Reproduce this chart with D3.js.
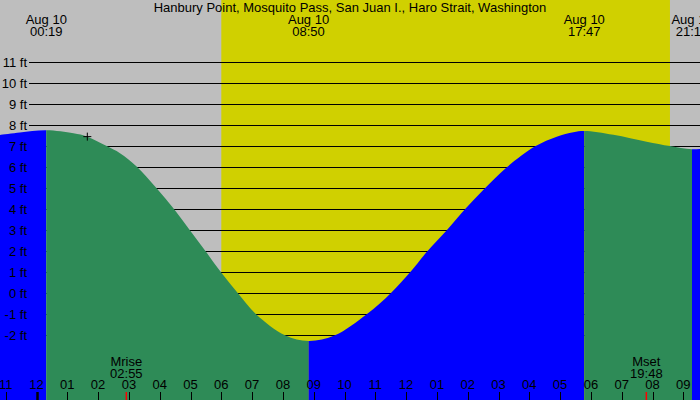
<!DOCTYPE html>
<html>
<head>
<meta charset="utf-8">
<script src="https://cdn.jsdelivr.net/npm/d3@7"></script>
<style>
  body { margin: 0; background: #fff; }
  svg { display: block; }
  text { font-family: "Liberation Sans", Arial, sans-serif; font-size: 13px; fill: #000; }
</style>
</head>
<body>
<div id="chart"></div>
<script>
const title = "Hanbury Point, Mosquito Pass, San Juan I., Haro Strait, Washington";

// tide curve: hours after midnight Aug 10, height in ft
const sampleHours = [-1.19, -0.54, 0.32, 1.2, 1.65, 2.28, 2.71, 3.25, 3.9, 4.47, 4.98, 5.49, 5.99, 6.54, 7.13, 8.07, 8.83,
                     9.69, 10.72, 11.5, 12.13, 12.69, 13.32, 13.91, 14.56, 15.27, 16.19, 16.89, 17.43, 17.78, 18.73, 19.81, 20.57, 21.28, 22.03];
const sampleFeet  = [7.54, 7.66, 7.76, 7.62, 7.46, 7.01, 6.67, 6.04, 5, 4, 3, 2, 1, 0, -1, -2, -2.27,
                     -2, -1, 0, 1, 2, 3, 4, 5, 6, 7, 7.46, 7.67, 7.73, 7.55, 7.22, 7.01, 6.86, 6.95];

// high / low tides
const tideDates = ["Aug 10", "Aug 10", "Aug 10", "Aug 10"];
const tideTimes = ["00:19", "08:50", "17:47", "21:17"];

const sunTimes = ["06:00", "20:34"];
const moonLabels = ["Mrise", "Mset"];
const moonTimes = ["02:55", "19:48"];

const markerHour = 1.65, markerFeet = 7.46;

const footTicks = d3.range(-2, 12);
const hourTicks = d3.range(-1, 23);

const width = 700, height = 400;
const toHours = s => { const [h, m] = s.split(":").map(Number); return h + m / 60; };

const x = d3.scaleLinear().domain([0, 24]).range([36.5, 36.5 + 30.8 * 24]);
const y = d3.scaleLinear().domain([-2, 11]).range([335.3, 62.3]);

const svg = d3.select("#chart").append("svg")
  .attr("width", width).attr("height", height);

svg.append("rect").attr("width", width).attr("height", height).attr("fill", "#bebebe");

const [sunrise, sunset] = sunTimes.map(toHours);
svg.append("rect")
  .attr("x", x(sunrise)).attr("y", 0)
  .attr("width", x(sunset) - x(sunrise)).attr("height", height)
  .attr("fill", "#d0d000");

// grid
svg.append("g").selectAll("line").data(footTicks).join("line")
  .attr("x1", 29).attr("x2", width)
  .attr("y1", d => Math.round(y(d)) + 0.5).attr("y2", d => Math.round(y(d)) + 0.5)
  .attr("stroke", "#000").attr("stroke-width", 1);

// tide area: blue while rising, green while falling
const pts = sampleHours.map((h, i) => [h, sampleFeet[i]]);
const area = d3.area()
  .x(d => x(d[0])).y0(height).y1(d => y(d[1]))
  .curve(d3.curveCatmullRom.alpha(0.5));

const bounds = [-2, ...tideTimes.map(toHours), 23];
const defs = svg.append("defs");
bounds.slice(0, -1).forEach((b0, i) => {
  const b1 = bounds[i + 1];
  const color = (i % 2 === 0) ? "#0000ff" : "#2e8b57";
  defs.append("clipPath").attr("id", "seg" + i)
    .append("rect")
    .attr("x", x(b0)).attr("y", 0)
    .attr("width", x(b1) - x(b0)).attr("height", height);
  svg.append("path")
    .datum(pts)
    .attr("d", area)
    .attr("fill", color)
    .attr("clip-path", `url(#seg${i})`);
});

// y labels
svg.append("g").selectAll("text").data(footTicks).join("text")
  .attr("x", 27).attr("y", d => y(d)).attr("dy", "0.36em")
  .attr("text-anchor", "end")
  .text(d => d + " ft");

// title
svg.append("text").attr("x", width / 2).attr("y", 12)
  .attr("text-anchor", "middle").text(title);

// tide time labels
const tl = svg.append("g").selectAll("g").data(tideTimes).join("g")
  .attr("transform", d => `translate(${x(toHours(d))},0)`);
tl.append("text").attr("y", 24).attr("text-anchor", "middle").text((d, i) => tideDates[i]);
tl.append("text").attr("y", 36).attr("text-anchor", "middle").text(d => d);

// current-time marker
svg.append("path")
  .attr("d", `M${x(markerHour) - 4},${y(markerFeet)}h8M${x(markerHour)},${y(markerFeet) - 4}v8`)
  .attr("stroke", "#000").attr("stroke-width", 1).attr("fill", "none");

// hour axis
const fmtHour = h => String(((h % 12) + 12 + 11) % 12 + 1).padStart(2, "0");
svg.append("g").selectAll("text").data(hourTicks).join("text")
  .attr("x", d => x(d)).attr("y", 389)
  .attr("text-anchor", "middle")
  .text(fmtHour);
svg.append("g").selectAll("line").data(hourTicks).join("line")
  .attr("x1", d => Math.round(x(d)) + 0.5).attr("x2", d => Math.round(x(d)) + 0.5)
  .attr("y1", 392).attr("y2", height)
  .attr("stroke", "#000")
  .attr("stroke-width", d => d === 0 ? 2.5 : 1);

// moon rise / set
const ml = svg.append("g").selectAll("g").data(moonTimes).join("g")
  .attr("transform", d => `translate(${x(toHours(d))},0)`);
ml.append("text").attr("y", 366).attr("text-anchor", "middle").text((d, i) => moonLabels[i]);
ml.append("text").attr("y", 377.7).attr("text-anchor", "middle").text(d => d);
ml.append("line").attr("y1", 392).attr("y2", height)
  .attr("stroke", "#ff0000").attr("stroke-width", 1.5);
</script>
</body>
</html>
